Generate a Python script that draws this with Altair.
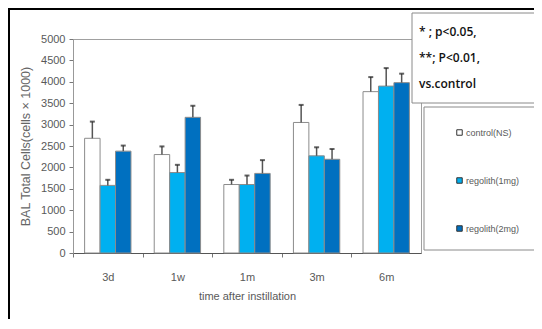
import altair as alt
import pandas as pd

categories = ["3d", "1w", "1m", "3m", "6m"]
groups = ["control(NS)", "regolith(1mg)", "regolith(2mg)"]
control_mean = [2680, 2300, 1600, 3050, 3770]
reg1_mean = [1580, 1880, 1600, 2270, 3900]
reg2_mean = [2380, 3170, 1860, 2190, 3980]
control_sd = [390, 190, 110, 410, 340]
reg1_sd = [130, 180, 210, 200, 420]
reg2_sd = [130, 270, 310, 240, 210]
y_ticks = list(range(0, 5001, 500))
colors = ["#ffffff", "#00b0f0", "#0070c0"]
notes = ["* ; p<0.05,", "**; P<0.01,", "vs.control"]

rows = []
for g, means, sds in zip(groups, [control_mean, reg1_mean, reg2_mean],
                         [control_sd, reg1_sd, reg2_sd]):
    for c, m, s in zip(categories, means, sds):
        rows.append({"time": c, "group": g, "mean": m, "upper": m + s})
df = pd.DataFrame(rows)

FONT = "Liberation Sans, Arial, sans-serif"
GRAY = "#595959"
W, H = 348, 214
step = W / len(categories)

x_axis = alt.Axis(title="time after instillation", labelAngle=0,
                  tickOffset=-step / 2, labelOffset=step / 2,
                  tickSize=4, tickColor="#777", domainColor="#555",
                  labelFont=FONT, labelFontSize=11, labelColor=GRAY,
                  labelPadding=14, titleFont=FONT, titleFontSize=11,
                  titleColor=GRAY, titlePadding=8, titleFontWeight="normal")
x_scale = alt.Scale(paddingInner=0.334, paddingOuter=0.167)
x_enc = alt.X("time:N", sort=categories, scale=x_scale, axis=x_axis)
xo_enc = alt.XOffset("group:N", sort=groups,
                     scale=alt.Scale(paddingInner=0, paddingOuter=0))
y_scale = alt.Scale(domain=[0, 5000], nice=False)
y_axis = alt.Axis(title="BAL Total Cells(cells × 1000)", values=y_ticks,
                  format="d", grid=False, tickSize=4, tickColor="#777",
                  domainColor="#999", labelFont=FONT, labelFontSize=11,
                  labelColor=GRAY, labelPadding=4, labelOverlap=False,
                  titleFont=FONT, titleFontSize=12.5, titleColor="#666",
                  titleFontWeight="normal", titlePadding=8)

base = alt.Chart(df)

bars = base.mark_bar(stroke="#8c8c8c", strokeWidth=1).encode(
    x=x_enc, xOffset=xo_enc,
    y=alt.Y("mean:Q", scale=y_scale, axis=y_axis),
    color=alt.Color("group:N", sort=groups,
                    scale=alt.Scale(domain=groups, range=colors),
                    legend=alt.Legend(title=None, orient="none", legendX=382,
                                      legendY=89, symbolType="square",
                                      symbolSize=30, symbolStrokeColor="#333",
                                      symbolStrokeWidth=1, labelFont=FONT,
                                      labelFontSize=9, labelColor=GRAY,
                                      labelOffset=2, rowPadding=37, zindex=1)))

err = base.mark_rule(color="#555", strokeWidth=1.5).encode(
    x=x_enc, xOffset=xo_enc,
    y=alt.Y("mean:Q", scale=y_scale, axis=y_axis), y2="upper:Q")

cap = base.mark_tick(color="#222", thickness=2, size=5).encode(
    x=x_enc, xOffset=xo_enc,
    y=alt.Y("upper:Q", scale=y_scale, axis=y_axis))

one = pd.DataFrame({"k": [0]})
note_box = alt.Chart(one).mark_rect(fill="white", stroke="#8a8a8a",
                                    strokeWidth=1).encode(
    x=alt.value(339), x2=alt.value(480), y=alt.value(-26), y2=alt.value(64))
legend_box = alt.Chart(one).mark_rect(fill="white", fillOpacity=0,
                                      stroke="#8a8a8a", strokeWidth=1).encode(
    x=alt.value(351), x2=alt.value(467), y=alt.value(68), y2=alt.value(211))

note_layers = []
for i, t in enumerate(notes):
    note_layers.append(
        alt.Chart(pd.DataFrame({"t": [t]})).mark_text(
            align="left", baseline="middle", font="Open Sans, sans-serif",
            fontSize=12, fontWeight=600, color="#111").encode(
            x=alt.value(346), y=alt.value(-7 + 26 * i), text="t:N"))

frame_left = alt.Chart(one).mark_rule(color="black", strokeWidth=2).encode(
    x=alt.value(-64), y=alt.value(-31), y2=alt.value(290))
frame_top = alt.Chart(one).mark_rule(color="black", strokeWidth=2).encode(
    x=alt.value(-65), x2=alt.value(470), y=alt.value(-30))

chart = alt.layer(bars, err, cap, note_box, legend_box, *note_layers,
                  frame_left, frame_top).properties(
    width=W, height=H,
    padding={"left": 65, "top": 31, "right": 113, "bottom": 66},
    autosize=alt.AutoSizeParams(type="none"),
    background="white",
).configure_view(stroke="#a0a0a0", strokeWidth=1)

chart.save("out.html", embed_options={"renderer": "svg", "actions": False})
